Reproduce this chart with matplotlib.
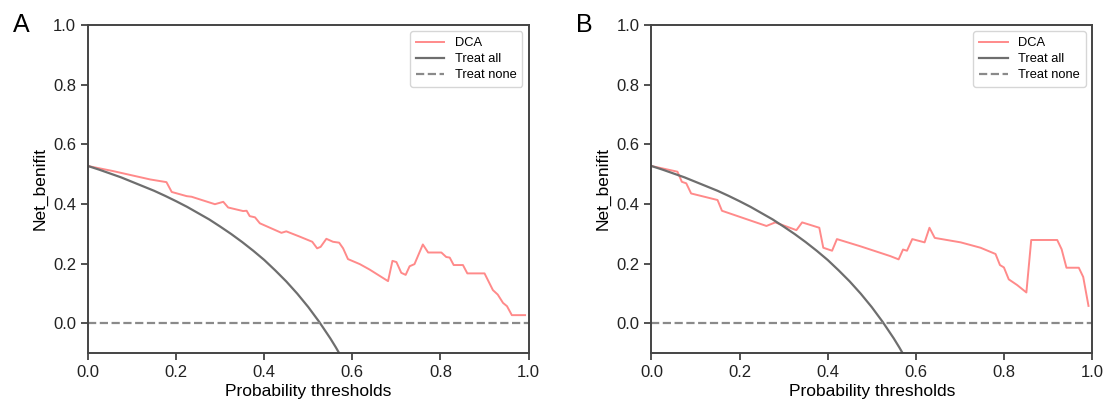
import matplotlib
matplotlib.use('Agg')
import matplotlib.pyplot as plt

plt.rcParams['font.family'] = ['Liberation Sans', 'DejaVu Sans']

# Пороги вероятности и чистая польза модели (панель A)
thr_a = [0.0, 0.057, 0.141, 0.178, 0.190, 0.224, 0.235, 0.288, 0.307, 0.318,
         0.352, 0.360, 0.367, 0.379, 0.390, 0.439, 0.450, 0.481, 0.509, 0.520,
         0.528, 0.541, 0.556, 0.570, 0.579, 0.590, 0.617, 0.639, 0.681, 0.691,
         0.700, 0.711, 0.721, 0.730, 0.741, 0.760, 0.772, 0.802, 0.813, 0.821,
         0.830, 0.851, 0.861, 0.900, 0.919, 0.930, 0.942, 0.951, 0.962, 0.992]
nb_a = [0.527, 0.510, 0.482, 0.473, 0.440, 0.426, 0.424, 0.399, 0.407, 0.388,
        0.376, 0.377, 0.359, 0.355, 0.335, 0.303, 0.308, 0.290, 0.273, 0.251,
        0.256, 0.283, 0.273, 0.270, 0.251, 0.215, 0.198, 0.180, 0.141, 0.209,
        0.205, 0.169, 0.162, 0.191, 0.198, 0.264, 0.237, 0.237, 0.222, 0.220,
        0.195, 0.195, 0.167, 0.167, 0.111, 0.096, 0.068, 0.057, 0.027, 0.027]

# Панель B
thr_b = [0.0, 0.059, 0.069, 0.079, 0.090, 0.150, 0.160, 0.261, 0.281, 0.329,
         0.342, 0.381, 0.390, 0.410, 0.421, 0.474, 0.542, 0.561, 0.571, 0.580,
         0.592, 0.620, 0.631, 0.643, 0.702, 0.747, 0.781, 0.791, 0.800, 0.811,
         0.830, 0.851, 0.862, 0.921, 0.931, 0.942, 0.970, 0.980, 0.992]
nb_b = [0.527, 0.508, 0.474, 0.469, 0.435, 0.413, 0.377, 0.326, 0.338, 0.312,
        0.338, 0.320, 0.253, 0.243, 0.282, 0.258, 0.225, 0.214, 0.247, 0.243,
        0.282, 0.271, 0.320, 0.286, 0.271, 0.253, 0.232, 0.195, 0.187, 0.147,
        0.128, 0.103, 0.279, 0.279, 0.248, 0.186, 0.186, 0.155, 0.058]

# Стратегия "лечить всех"
thr_all = [0.0, 0.025, 0.05, 0.075, 0.10, 0.125, 0.15, 0.175, 0.20, 0.225,
           0.25, 0.275, 0.30, 0.325, 0.35, 0.375, 0.40, 0.425, 0.45, 0.475,
           0.50, 0.525, 0.55, 0.5625, 0.575]
nb_all = [0.527, 0.515, 0.502, 0.489, 0.474, 0.459, 0.444, 0.427, 0.409, 0.390,
          0.369, 0.348, 0.324, 0.299, 0.272, 0.243, 0.212, 0.177, 0.140, 0.099,
          0.054, 0.004, -0.051, -0.081, -0.113]

panels = [('A', thr_a, nb_a, 0.0793), ('B', thr_b, nb_b, 0.5869)]

fig = plt.figure(figsize=(11.1, 4.16), dpi=100)

for letter, thr, nb, left in panels:
    ax = fig.add_axes([left, 0.1514, 0.3969, 0.7886])
    ax.plot(thr, nb, color='#ff8a8a', linewidth=1.4, label='DCA')
    ax.plot(thr_all, nb_all, color='#6e6e6e', linewidth=1.6, label='Treat all')
    ax.plot([0, 1], [0, 0], color='#8a8a8a', linewidth=1.6, linestyle='--', label='Treat none')
    ax.set_xlim(0, 1)
    ax.set_ylim(-0.1, 1.0)
    ax.set_xticks([0, 0.2, 0.4, 0.6, 0.8, 1.0])
    ax.set_yticks([0, 0.2, 0.4, 0.6, 0.8, 1.0])
    ax.tick_params(labelsize=12, length=5, width=1.2, colors='#333333', labelcolor='#222222')
    ax.set_xlabel('Probability thresholds', fontsize=12.5, labelpad=3)
    ax.set_ylabel('Net_benifit', fontsize=12.5)
    for s in ax.spines.values():
        s.set_color('#444444')
        s.set_linewidth(1.4)
    ax.legend(loc='upper right', fontsize=9.3, frameon=True, handlelength=2.2,
              borderpad=0.45, labelspacing=0.3)
    fig.text(left - 0.068, 0.94, letter, fontsize=18, va='center', ha='left')

fig.savefig('out.png', dpi=100)
